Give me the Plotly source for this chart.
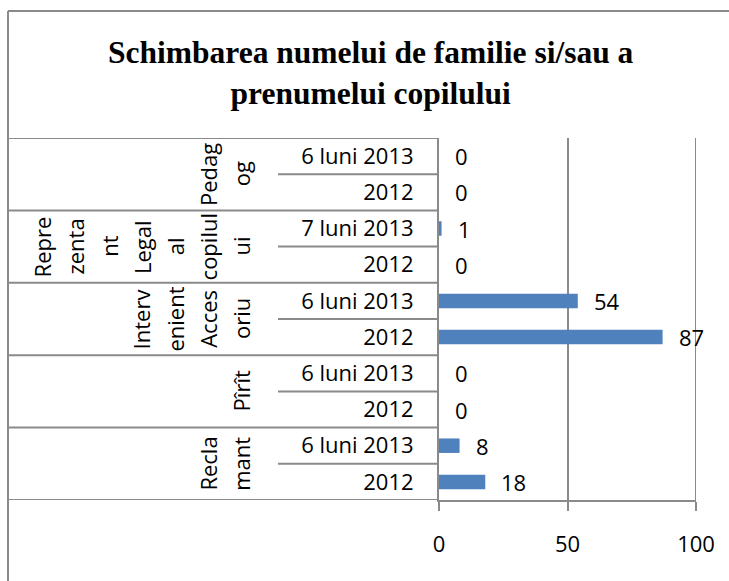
import plotly.graph_objects as go

# ---------------- data ----------------
groups = ["Reclamant", "Pîrît", "Intervenient Accesoriu",
          "Reprezentant Legal al copilului", "Pedagog"]
group_lines = [["Recla", "mant"],
               ["Pîrît"],
               ["Interv", "enient", "Acces", "oriu"],
               ["Repre", "zenta", "nt", "Legal", "al", "copilul", "ui"],
               ["Pedag", "og"]]
periods = [["2012", "6 luni 2013"],
           ["2012", "6 luni 2013"],
           ["2012", "6 luni 2013"],
           ["2012", "7 luni 2013"],
           ["2012", "6 luni 2013"]]
values = [[18, 8],
          [0, 0],
          [87, 54],
          [0, 1],
          [0, 0]]
x_ticks = [0, 50, 100]
title_text = "Schimbarea numelui de familie si/sau a<br>prenumelui copilului"

# ---------------- layout constants (pixels) ----------------
W, H = 729, 581
PL, PR, PT, PB = 439, 696, 138, 500
TABLE_L = 8
INNER_L = 278
GRAY = "#8a8a8a"
BAR = "#4F81BD"
FONT = "Open Sans"

def fx(px):
    return (px - PL) / (PR - PL)

def fy(py):
    return (PB - py) / (PB - PT)

cat_ids, cat_text, xs = [], [], []
for g, ps, vs in zip(groups, periods, values):
    for p, v in zip(ps, vs):
        cat_ids.append(g + "|" + p)
        cat_text.append(p)
        xs.append(v)

fig = go.Figure(go.Bar(
    x=xs, y=cat_ids, orientation="h",
    marker=dict(color=BAR, line=dict(width=0)),
    width=0.4, hoverinfo="x+y",
))

annotations = []
# value labels
for cid, v in zip(cat_ids, xs):
    annotations.append(dict(x=v, y=cid, xref="x", yref="y", text=str(v),
                            showarrow=False, xanchor="left", yanchor="middle",
                            xshift=14, font=dict(family=FONT, size=22, color="black")))
# group labels (rotated, wrapped lines)
n_per = len(periods[0])
for gi, lines in enumerate(group_lines):
    yc = gi * n_per + (n_per - 1) / 2
    n = len(lines)
    for li, t in enumerate(lines):
        cx = 241 - (n - 1 - li) * 33.2
        annotations.append(dict(x=fx(cx), y=yc, xref="paper", yref="y", text=t,
                                showarrow=False, textangle=-90,
                                xanchor="center", yanchor="middle",
                                font=dict(family=FONT, size=22, color="black")))
# title
annotations.append(dict(x=fx(371), y=fy(73), xref="paper", yref="paper",
                        text="<b>" + title_text + "</b>", showarrow=False,
                        xanchor="center", yanchor="middle",
                        font=dict(family="Liberation Serif", size=31.5, color="black")))

shapes = []
ln = dict(color=GRAY, width=2)
ng = len(groups)
for k in range(ng + 1):
    y = k * n_per - 0.5
    shapes.append(dict(type="line", xref="paper", yref="y",
                       x0=fx(TABLE_L), x1=0, y0=y, y1=y, line=ln, layer="above"))
for k in range(ng):
    for j in range(1, n_per):
        y = k * n_per + j - 0.5
        shapes.append(dict(type="line", xref="paper", yref="y",
                           x0=fx(INNER_L), x1=0, y0=y, y1=y, line=ln, layer="above"))
# gridline at the last tick (edge of plot area)
shapes.append(dict(type="line", xref="x", yref="paper",
                   x0=x_ticks[-1], x1=x_ticks[-1], y0=0, y1=1, line=ln, layer="below"))
# outer chart border (left and top)
shapes.append(dict(type="line", xref="paper", yref="paper",
                   x0=fx(TABLE_L), x1=fx(TABLE_L), y0=fy(11), y1=fy(H + 5), line=ln))
shapes.append(dict(type="line", xref="paper", yref="paper",
                   x0=fx(TABLE_L), x1=fx(W + 5), y0=fy(11), y1=fy(11), line=ln))

fig.update_layout(
    width=W, height=H,
    margin=dict(l=PL, r=W - PR, t=PT, b=H - PB, pad=0),
    paper_bgcolor="white", plot_bgcolor="white",
    showlegend=False,
    bargap=0.6,
    annotations=annotations,
    shapes=shapes,
    xaxis=dict(range=[0, 100], tickvals=x_ticks, showgrid=True,
               gridcolor=GRAY, gridwidth=2, zeroline=False,
               showline=True, linecolor=GRAY, linewidth=2,
               ticks="outside", ticklen=9, tickwidth=2, tickcolor=GRAY,
               tickfont=dict(family=FONT, size=22, color="black"),
               ticklabelstandoff=15, fixedrange=True),
    yaxis=dict(type="category", categoryorder="array", categoryarray=cat_ids,
               tickvals=cat_ids, ticktext=cat_text, range=[-0.5, len(cat_ids) - 0.5],
               showgrid=False, zeroline=False, showline=True,
               linecolor=GRAY, linewidth=2, ticks="",
               tickfont=dict(family=FONT, size=22, color="black"),
               ticklabelstandoff=19, fixedrange=True),
)

fig.write_html("out.html",
               config={"displayModeBar": False},
               post_script="document.body.style.margin='0';document.body.style.overflow='hidden';")
